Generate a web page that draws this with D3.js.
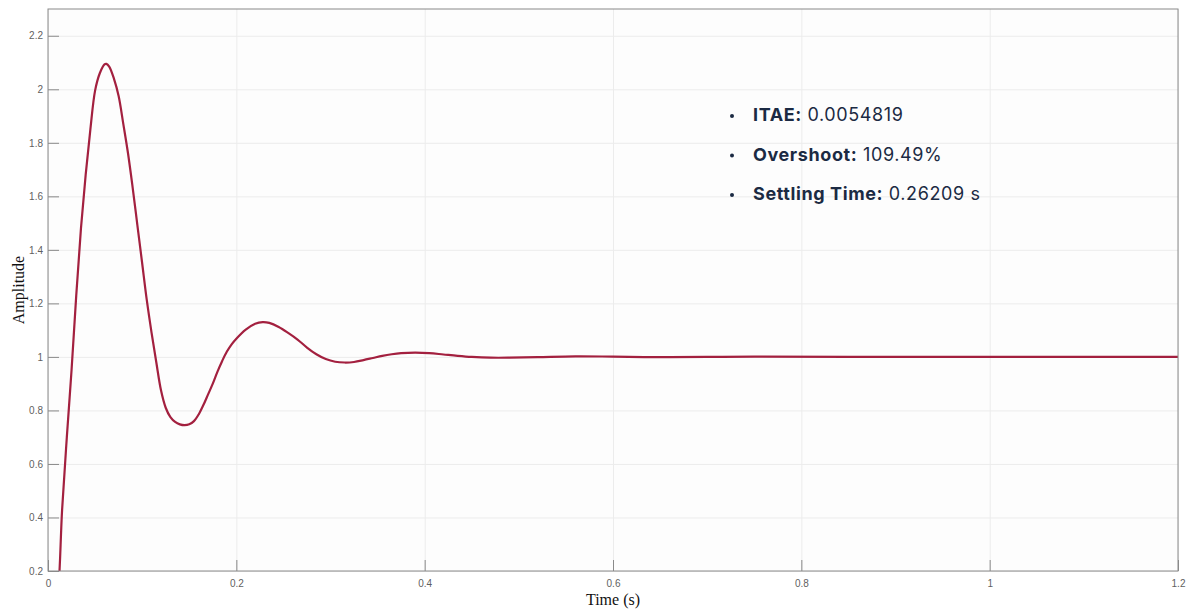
<!DOCTYPE html>
<meta charset="utf-8">
<head>
<style>
  body { margin: 0; background: #fff; }
  .grid line { stroke: #ececec; stroke-width: 1; }
  .grid path { display: none; }
  .axis text { fill: #5f5f5f; font-family: "Liberation Sans", Arial, sans-serif; font-size: 10px; }
  .axis line, .axis path { stroke: #8a8a8a; }
  .note { font-family: Inter, "Open Sans", sans-serif; font-size: 18px; fill: #1b2a43; letter-spacing: 0.6px; }
</style>
<title>Step response</title>
</head>
<svg width="1187" height="610"></svg>
<script src="https://cdn.jsdelivr.net/npm/d3@7"></script>
<script>

// step response
var time = [0, 0.005, 0.010, 0.015, 0.020, 0.025, 0.030, 0.035, 0.040, 0.045, 0.050, 0.055, 0.060, 0.062,
            0.065, 0.070, 0.075, 0.080, 0.085, 0.090, 0.095, 0.100, 0.105, 0.110, 0.115, 0.120, 0.125,
            0.130, 0.135, 0.140, 0.145, 0.150, 0.155, 0.160, 0.165, 0.170, 0.175, 0.180, 0.185, 0.190,
            0.195, 0.200, 0.210, 0.220, 0.228, 0.235, 0.245, 0.255, 0.265, 0.275, 0.285, 0.295, 0.305,
            0.315, 0.325, 0.335, 0.345, 0.355, 0.365, 0.375, 0.390, 0.405, 0.420, 0.435, 0.450, 0.470,
            0.490, 0.520, 0.560, 0.600, 0.650, 0.700, 0.750, 0.850, 1.200];
var amplitude = [0, 0.005, 0.09, 0.43, 0.70, 0.95, 1.23, 1.48, 1.68, 1.85, 1.995, 2.06, 2.093, 2.095,
                 2.085, 2.04, 1.975, 1.87, 1.76, 1.63, 1.49, 1.35, 1.21, 1.09, 0.98, 0.875, 0.81,
                 0.775, 0.757, 0.748, 0.745, 0.748, 0.76, 0.785, 0.82, 0.86, 0.90, 0.945, 0.985, 1.02,
                 1.047, 1.068, 1.102, 1.124, 1.13, 1.127, 1.112, 1.09, 1.065, 1.035, 1.01, 0.992, 0.982,
                 0.979, 0.981, 0.988, 0.996, 1.004, 1.01, 1.014, 1.016, 1.014, 1.009, 1.004, 1.0, 0.997,
                 0.997, 0.999, 1.002, 1.001, 0.999, 1.0, 1.001, 1.0, 1.0];

var xTicks = [0, 0.2, 0.4, 0.6, 0.8, 1, 1.2];
var yTicks = [0.2, 0.4, 0.6, 0.8, 1, 1.2, 1.4, 1.6, 1.8, 2, 2.2];

var noteLabels = ["ITAE:", "Overshoot:", "Settling Time:"];
var noteValues = ["0.0054819", "109.49%", "0.26209 s"];

var svg = d3.select("svg");
var plotL = 48, plotR = 1178, plotT = 9, plotB = 571;
var width = plotR - plotL, height = plotB - plotT;

var xScale = d3.scaleLinear().domain([0, 1.2]).range([0, width]);
var yScale = d3.scaleLinear().domain([0.2, 2.3]).range([height, 0]);

var g = svg.append("g").attr("transform", "translate(" + plotL + "," + plotT + ")");

g.append("rect").attr("width", width).attr("height", height).attr("fill", "#fdfdfd");

// grid
g.append("g").attr("class", "grid")
    .call(d3.axisLeft(yScale).tickValues(yTicks).tickSize(-width).tickFormat(""));
g.append("g").attr("class", "grid")
    .attr("transform", "translate(0," + height + ")")
    .call(d3.axisBottom(xScale).tickValues(xTicks).tickSize(-height).tickFormat(""));

g.append("defs").append("clipPath").attr("id", "clip")
    .append("rect").attr("width", width).attr("height", height);

var pts = time.map(function(t, i) { return [t, amplitude[i]]; });
var line = d3.line()
    .x(function(p) { return xScale(p[0]); })
    .y(function(p) { return yScale(p[1]); })
    .curve(d3.curveCatmullRom.alpha(0.5));

g.append("path")
    .datum(pts)
    .attr("clip-path", "url(#clip)")
    .attr("fill", "none")
    .attr("stroke", "#a3203f")
    .attr("stroke-width", 2.2)
    .attr("d", line);

// box
g.append("rect").attr("width", width).attr("height", height)
    .attr("fill", "none").attr("stroke", "#8a8a8a");

// axes, ticks inside like matlab
var yAxis = g.append("g").attr("class", "axis")
    .call(d3.axisLeft(yScale).tickValues(yTicks).tickSizeInner(-11).tickSizeOuter(0).tickPadding(5)
        .tickFormat(d3.format("~g")));
yAxis.select(".domain").remove();

var xAxis = g.append("g").attr("class", "axis")
    .attr("transform", "translate(0," + height + ")")
    .call(d3.axisBottom(xScale).tickValues(xTicks).tickSizeInner(-11).tickSizeOuter(0).tickPadding(9)
        .tickFormat(d3.format("~g")));
xAxis.select(".domain").remove();

svg.append("text")
    .attr("transform", "translate(24," + (plotT + height / 2) + ") rotate(-90)")
    .attr("text-anchor", "middle")
    .attr("font-family", "Liberation Serif, Times New Roman, serif")
    .attr("font-size", "16px")
    .attr("fill", "#111")
    .text("Amplitude");

svg.append("text")
    .attr("x", plotL + width / 2)
    .attr("y", 605)
    .attr("text-anchor", "middle")
    .attr("font-family", "Liberation Serif, Times New Roman, serif")
    .attr("font-size", "16px")
    .attr("fill", "#111")
    .text("Time (s)");

// metric notes
var notes = svg.append("g");
noteLabels.forEach(function(lab, i) {
    var y = 121 + i * 39.5;
    notes.append("circle").attr("cx", 732).attr("cy", y - 5).attr("r", 2).attr("fill", "#1b2a43");
    var t = notes.append("text").attr("class", "note").attr("x", 753).attr("y", y);
    t.append("tspan").attr("font-weight", "bold").text(lab);
    t.append("tspan").text(" " + noteValues[i]);
});

</script>
